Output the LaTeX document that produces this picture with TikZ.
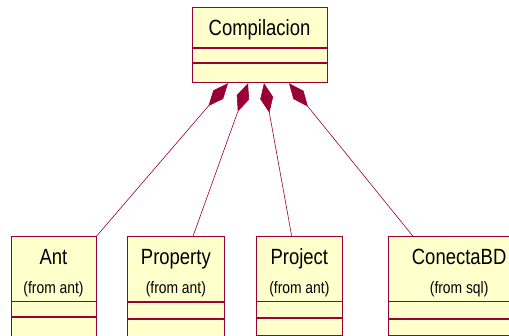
\documentclass[tikz,border=0pt]{standalone}
\usepackage{fontspec}
\setmainfont{Liberation Sans}[FakeStretch=0.84]
\usetikzlibrary{positioning,arrows.meta}
\definecolor{roseline}{RGB}{153,0,51}
\definecolor{rosefill}{RGB}{255,255,204}
\newcommand{\fromtext}[1]{\fontsize{16.5}{19}\selectfont(from #1)}
\newcommand{\umltitle}[2]{\rule{0pt}{24pt}#1\\[4pt]\fromtext{#2}}

\begin{document}
\begin{tikzpicture}[x=1pt,y=-1pt,
  classname/.style={draw=roseline,fill=rosefill,line width=0.9pt,align=center,
    inner sep=0pt,font=\fontsize{22}{25}\selectfont},
  classpart/.style={draw=roseline,fill=rosefill,line width=0.9pt,inner sep=0pt},
  aggr/.style={draw=roseline,line width=0.6pt,
    -{Diamond[length=30pt,width=13pt,fill=roseline]}}]
 \clip (0,0) rectangle (509,336);
 % whole
 \node[classname,minimum width=135pt,minimum height=40.4pt] (comp) at (259.5,27.5) {\rule{0pt}{20pt}Compilacion};
 \node[classpart,minimum width=135pt,minimum height=13.6pt,below=0pt of comp] (compA) {};
 \node[classpart,minimum width=135pt,minimum height=19.7pt,below=0pt of compA] (compB) {};
 % parts
 \node[classname,minimum width=85pt,minimum height=64.3pt] (ant) at (53.5,268.85) {\umltitle{Ant}{ant}};
 \node[classpart,minimum width=85pt,minimum height=14.3pt,below=0pt of ant] (antA) {};
 \node[classpart,minimum width=85pt,minimum height=30pt,below=0pt of antA] (antB) {};
 %
 \node[classname,minimum width=96.3pt,minimum height=64.6pt] (prop) at (175.85,269) {\umltitle{Property}{ant}};
 \node[classpart,minimum width=96.3pt,minimum height=16pt,below=0pt of prop] (propA) {};
 \node[classpart,minimum width=96.3pt,minimum height=17pt,below=0pt of propA] (propB) {};
 %
 \node[classname,minimum width=86.7pt,minimum height=64.3pt] (proj) at (299.35,268.85) {\umltitle{Project}{ant}};
 \node[classpart,minimum width=86.7pt,minimum height=16pt,below=0pt of proj] (projA) {};
 \node[classpart,minimum width=86.7pt,minimum height=17pt,below=0pt of projA] (projB) {};
 %
 \node[classname,minimum width=141.7pt,minimum height=64.3pt] (conn) at (459.15,268.85) {\umltitle{ConectaBD}{sql}};
 \node[classpart,minimum width=141.7pt,minimum height=17pt,below=0pt of conn] (connA) {};
 \node[classpart,minimum width=141.7pt,minimum height=16pt,below=0pt of connA] (connB) {};
 % aggregation
 \draw[aggr] (ant.north east) -- ([xshift=-31.5pt]compB.south);
 \draw[aggr] ([xshift=17.15pt]prop.north) -- ([xshift=-11.5pt]compB.south);
 \draw[aggr] ([xshift=-7.65pt]proj.north) -- ([xshift=4.5pt]compB.south);
 \draw[aggr] ([xshift=-46.15pt]conn.north) -- ([xshift=29.5pt]compB.south);
\end{tikzpicture}
\end{document}
